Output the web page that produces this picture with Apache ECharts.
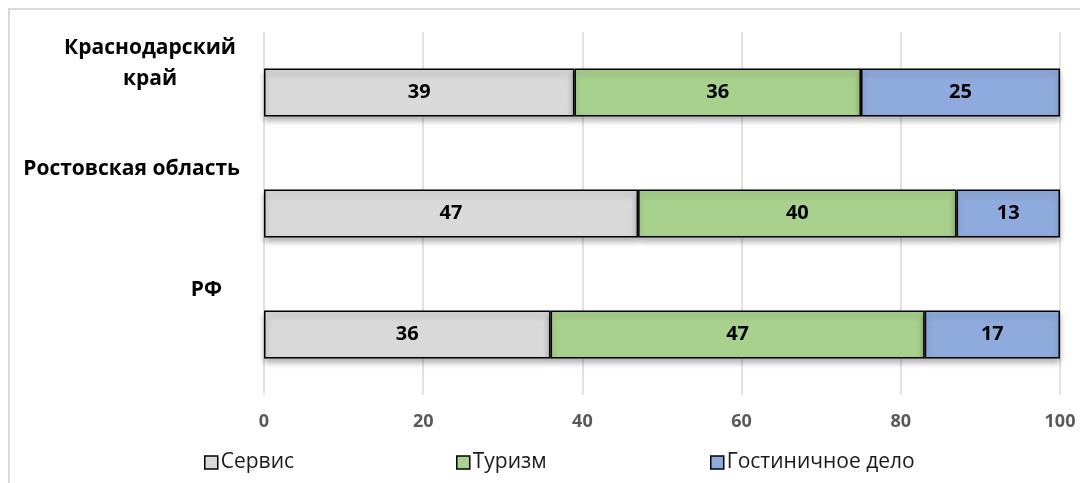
<!DOCTYPE html>
<html>
<head>
<meta charset="utf-8">
<script src="https://cdn.jsdelivr.net/npm/echarts@6/dist/echarts.min.js"></script>
<style>
  html, body { margin: 0; padding: 0; background: #fff; }
  #wrap { position: relative; width: 1080px; height: 483px; overflow: hidden; }
  #frame { position: absolute; left: 8px; top: 8px; width: 1100px; height: 500px; border: 2px solid #d9d9d9; box-sizing: border-box; }
  #chart { position: absolute; left: 0; top: 0; width: 1080px; height: 483px; }
</style>
</head>
<body>
<div id="wrap">
  <div id="frame"></div>
  <div id="chart"></div>
</div>
<script>
const regions = ['Краснодарский\nкрай', 'Ростовская область', 'РФ']
const servis = [39, 47, 36]
const turizm = [36, 40, 47]
const gostin = [25, 13, 17]
const seriesNames = ['Сервис', 'Туризм', 'Гостиничное дело']
const colors = ['#D9D9D9', '#A9D18E', '#8FAADC']

const font = '"Open Sans", "Noto Sans", sans-serif'
const myChart = echarts.init(document.getElementById('chart'))

function barSeries (name, data, color) {
  return {
    name: name,
    type: 'bar',
    stack: 'total',
    barWidth: 48,
    data: data,
    itemStyle: {
      color: color,
      borderColor: '#000',
      borderWidth: 1.5,
      shadowColor: 'rgba(0,0,0,0.3)',
      shadowBlur: 6,
      shadowOffsetY: 4
    },
    label: {
      show: true,
      position: 'inside',
      color: '#000',
      fontWeight: 'bold',
      fontSize: 20,
      fontFamily: font
    }
  }
}

function legendAt (left, name) {
  return {
    left: left,
    top: 447,
    icon: 'rect',
    itemWidth: 13,
    itemHeight: 13,
    itemGap: 0,
    data: [name],
    textStyle: { fontSize: 21, color: '#1a1a1a', fontFamily: font, padding: [0, 0, 0, -2] },
    itemStyle: { borderColor: '#000', borderWidth: 1.5 }
  }
}

const labelStyle = {
  fontSize: 21,
  fontWeight: 'bold',
  color: '#000',
  fontFamily: font
}

let option = {
  animation: false,
  color: colors,
  grid: {
    left: 264,
    right: 20,
    top: 32,
    bottom: 88
  },
  legend: [
    legendAt(199, seriesNames[0]),
    legendAt(451, seriesNames[1]),
    legendAt(705, seriesNames[2])
  ],
  xAxis: {
    type: 'value',
    min: 0,
    max: 100,
    interval: 20,
    axisLine: { show: false },
    axisTick: { show: false },
    splitLine: { show: true, lineStyle: { color: '#d9d9d9', width: 1.5 } },
    axisLabel: {
      margin: 18,
      color: '#595959',
      fontWeight: 'bold',
      fontSize: 18,
      fontFamily: font
    }
  },
  yAxis: {
    type: 'category',
    inverse: true,
    data: regions,
    axisLine: { show: false },
    axisTick: { show: false },
    axisLabel: {
      margin: 24,
      formatter: function (value, index) {
        if (index === 0) {
          const parts = value.split('\n')
          // empty last line pushes the two-line label up
          return '{k|' + parts[0] + '}\n{k|' + parts[1] + '}\n{sp| }'
        }
        if (index === 2) return '{rf|' + value + '}'
        return '{r|' + value + '}'
      },
      rich: {
        k: Object.assign({}, labelStyle, { width: 180, align: 'center', lineHeight: 31 }),
        sp: { fontSize: 10, lineHeight: 58 },
        r: Object.assign({}, labelStyle, { padding: [0, 0, 88, 0] }),
        rf: Object.assign({}, labelStyle, { padding: [0, 18, 88, 0] })
      }
    }
  },
  series: [
    barSeries(seriesNames[0], servis, colors[0]),
    barSeries(seriesNames[1], turizm, colors[1]),
    barSeries(seriesNames[2], gostin, colors[2])
  ]
}
myChart.setOption(option)
</script>
</body>
</html>
